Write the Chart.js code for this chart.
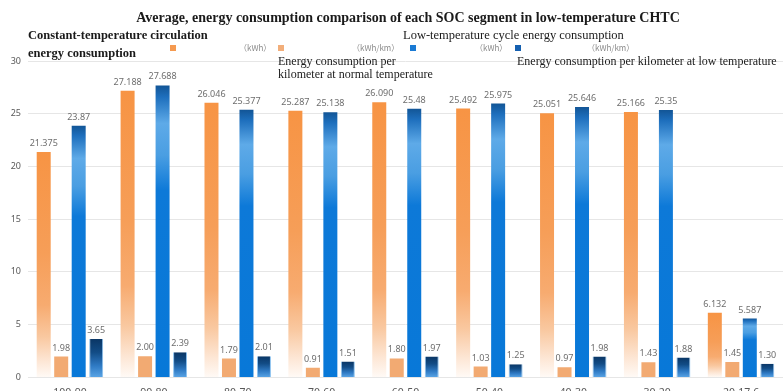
<!DOCTYPE html>
<html>
<head>
<meta charset="utf-8">
<script src="https://cdn.jsdelivr.net/npm/chart.js@4.4.1/dist/chart.umd.min.js"></script>
<style>
  html, body { margin: 0; padding: 0; background: #ffffff; }
  #wrap { width: 783px; height: 391px; overflow: hidden; position: relative; }
  canvas { display: block; }
</style>
</head>
<body>
<div id="wrap"><canvas id="chart" width="783" height="408"></canvas></div>
<script>
// SOC segments along the x axis
const categories = ['100-90', '90-80', '80-70', '70-60', '60-50', '50-40', '40-30', '30-20', '20-17.6'];

// Value labels as printed above each bar (the bars are drawn from these same numbers)
const constTempKWh   = ['21.375', '27.188', '26.046', '25.287', '26.090', '25.492', '25.051', '25.166', '6.132'];
const normalKWhPerKm = ['1.98', '2.00', '1.79', '0.91', '1.80', '1.03', '0.97', '1.43', '1.45'];
const lowTempKWh     = ['23.87', '27.688', '25.377', '25.138', '25.48', '25.975', '25.646', '25.35', '5.587'];
const lowKWhPerKm    = ['3.65', '2.39', '2.01', '1.51', '1.97', '1.25', '1.98', '1.88', '1.30'];

// y axis ticks
const yTicks = [0, 5, 10, 15, 20, 25, 30];

const titleText = 'Average, energy consumption comparison of each SOC segment in low-temperature CHTC';

// Gradient helper: stops run from the bar's top (0) to the zero line (1)
function barGradient(stops, fallback) {
  return function (ctx) {
    const chart = ctx.chart;
    if (!chart.chartArea || ctx.type !== 'data' || !ctx.parsed) return fallback;
    const y = chart.scales.y;
    const top = y.getPixelForValue(ctx.parsed.y);
    const bottom = y.getPixelForValue(0);
    if (!isFinite(top) || bottom - top < 1) return fallback;
    const g = chart.ctx.createLinearGradient(0, top, 0, bottom);
    stops.forEach(s => g.addColorStop(s[0], s[1]));
    return g;
  };
}

const orangeFade = barGradient([
  [0, '#f79444'], [0.45, '#f69e58'], [0.68, '#f7ab70'], [0.82, '#f9c8a0'], [0.93, '#fde7d6'], [1, '#fffaf6']
], '#f79444');
const blueBand = barGradient([
  [0, '#125596'], [0.04, '#1e6fbd'], [0.13, '#5eaae8'], [0.24, '#4a9ee2'], [0.36, '#0d79d8'], [1, '#0878d8']
], '#0878d8');
const navyFade = barGradient([
  [0, '#0a3665'], [0.35, '#124c86'], [0.7, '#2f7ac4'], [1, '#5aa5e6']
], '#124c86');

const datasets = [
  { label: 'Constant-temperature circulation energy consumption (kWh)', data: constTempKWh.map(Number), text: constTempKWh, backgroundColor: orangeFade },
  { label: 'Energy consumption per kilometer at normal temperature (kWh/km)', data: normalKWhPerKm.map(Number), text: normalKWhPerKm, backgroundColor: '#f2aa72' },
  { label: 'Low-temperature cycle energy consumption (kWh)', data: lowTempKWh.map(Number), text: lowTempKWh, backgroundColor: blueBand },
  { label: 'Energy consumption per kilometer at low temperature (kWh/km)', data: lowKWhPerKm.map(Number), text: lowKWhPerKm, backgroundColor: navyFade, borderColor: '#8cc2ef', borderWidth: { top: 0, left: 1, right: 1, bottom: 0 } }
];

// Numbers above the bars
const valueLabels = {
  id: 'valueLabels',
  afterDatasetsDraw(chart) {
    const c = chart.ctx;
    c.save();
    c.font = '9px "Noto Sans", sans-serif';
    c.fillStyle = '#6e6e6e';
    c.textAlign = 'center';
    c.textBaseline = 'bottom';
    chart.data.datasets.forEach((ds, i) => {
      chart.getDatasetMeta(i).data.forEach((bar, j) => {
        c.fillText(ds.text[j], bar.x, bar.y - 4);
      });
    });
    c.restore();
  }
};

// Title and the hand-placed legend block
const header = {
  id: 'header',
  afterDraw(chart) {
    const c = chart.ctx;
    c.save();
    c.textBaseline = 'middle';
    c.fillStyle = '#1a1a1a';
    c.textAlign = 'center';
    c.font = 'bold 14px "Liberation Serif", serif';
    c.fillText(titleText, 408, 18);

    c.textAlign = 'left';
    c.font = 'bold 12.5px "Liberation Serif", serif';
    c.fillText('Constant-temperature circulation', 28, 36);
    c.fillText('energy consumption', 28, 54);

    c.font = '12px "Liberation Serif", serif';
    c.fillText('Energy consumption per', 278, 62);
    c.fillText('kilometer at normal temperature', 278, 75);
    c.fillText('Energy consumption per kilometer at low temperature', 517, 62);
    c.font = '12.5px "Liberation Serif", serif';
    c.fillText('Low-temperature cycle energy consumption', 403, 36);

    const swatches = [[170, '#f59a50'], [278, '#f2ae7a'], [410, '#1a7ad4'], [515, '#1560b0']];
    swatches.forEach(([x, col]) => { c.fillStyle = col; c.fillRect(x, 45, 6, 6); });

    c.fillStyle = '#8a8a8a';
    c.font = '8px "Noto Sans CJK SC", "Noto Sans", sans-serif';
    c.fillText('（kWh）', 239, 48);
    c.fillText('（kWh/km）', 352, 48);
    c.fillText('（kWh）', 475, 48);
    c.fillText('（kWh/km）', 587, 48);
    c.restore();
  }
};

new Chart(document.getElementById('chart'), {
  type: 'bar',
  data: { labels: categories, datasets },
  options: {
    responsive: false,
    animation: false,
    events: [],
    layout: { padding: { top: 61, left: 0, right: 0, bottom: 0 } },
    datasets: { bar: { categoryPercentage: 0.834, barPercentage: 0.8 } },
    plugins: { legend: { display: false }, title: { display: false }, tooltip: { enabled: false } },
    scales: {
      x: {
        grid: { display: false, drawTicks: false },
        border: { display: false },
        ticks: { color: '#595959', font: { size: 10.5, family: '"Noto Sans", sans-serif' }, padding: 9, maxRotation: 0, autoSkip: false }
      },
      y: {
        min: 0, max: 30,
        afterFit(scale) { scale.width = 28; },
        afterBuildTicks(scale) { scale.ticks = yTicks.map(v => ({ value: v })); },
        grid: { color: '#e6e6e6', drawTicks: false },
        border: { display: false },
        ticks: { color: '#595959', font: { size: 9, family: '"Noto Sans", sans-serif' }, padding: 7 }
      }
    }
  },
  plugins: [valueLabels, header]
});
</script>
</body>
</html>
